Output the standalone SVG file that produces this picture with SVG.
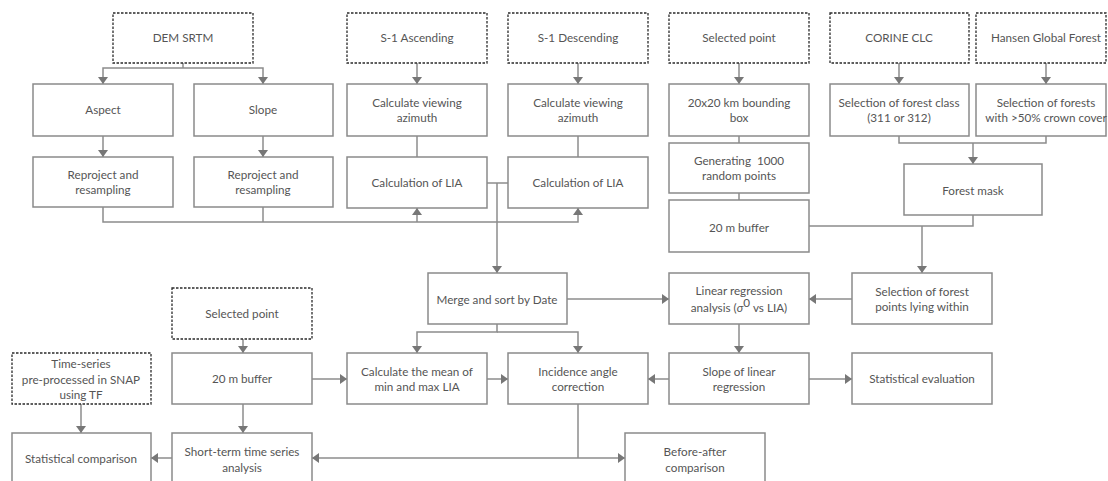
<svg xmlns="http://www.w3.org/2000/svg" width="1108" height="481" viewBox="0 0 1108 481">
<style>
  .box{fill:#fff;stroke:#8a8a8a;stroke-width:1.5}
  .src{fill:#fff;stroke:#2a2a2a;stroke-width:1.3;stroke-dasharray:2.5 1.5}
  .t{font-family:Lato,"Open Sans","Liberation Sans",sans-serif;font-size:11.7px;fill:#555;text-anchor:middle}
  .c{fill:none;stroke:#8c8c8c;stroke-width:1.5}
  .a{marker-end:url(#ah)}
</style>
<defs>
  <marker id="ah" viewBox="0 0 7 10" refX="7" refY="5" markerWidth="7" markerHeight="10" markerUnits="userSpaceOnUse" orient="auto">
    <path d="M0,0 L7,5 L0,10 z" fill="#777"/>
  </marker>
</defs>
<rect width="1108" height="481" fill="#fff"/>

<g id="connectors">
  <path class="c" d="M183,63 V68"/>
  <path class="c a" d="M183,68 H103 V84"/>
  <path class="c a" d="M183,68 H263 V84"/>
  <path class="c a" d="M103,136 V157"/>
  <path class="c a" d="M263,136 V157"/>
  <path class="c a" d="M417,63 V84"/>
  <path class="c a" d="M578,63 V84"/>
  <path class="c" d="M417,136 V157"/>
  <path class="c" d="M578,136 V157"/>
  <path class="c a" d="M103,207 V222 H578 V208"/>
  <path class="c a" d="M417,222 V208"/>
  <path class="c" d="M263,207 V222"/>
  <path class="c" d="M487,183 H508"/>
  <path class="c a" d="M497,183 V273"/>
  <path class="c a" d="M739,63 V84"/>
  <path class="c" d="M739,136 V143"/>
  <path class="c" d="M739,193 V200"/>
  <path class="c a" d="M899,63 V84"/>
  <path class="c a" d="M1046,63 V84"/>
  <path class="c" d="M899,136 V143 H1046 V136"/>
  <path class="c a" d="M973,143 V164"/>
  <path class="c" d="M809,226 H973 V215"/>
  <path class="c a" d="M922,226 V273"/>
  <path class="c a" d="M852,299 H809"/>
  <path class="c a" d="M567,299 H669"/>
  <path class="c a" d="M497,324 V332 H417 V353"/>
  <path class="c a" d="M497,332 H578 V353"/>
  <path class="c a" d="M739,324 V353"/>
  <path class="c a" d="M809,379 H852"/>
  <path class="c a" d="M669,379 H648"/>
  <path class="c a" d="M487,379 H508"/>
  <path class="c a" d="M312,379 H347"/>
  <path class="c a" d="M243,339 V353"/>
  <path class="c a" d="M243,404 V433"/>
  <path class="c a" d="M81,404 V433"/>
  <path class="c a" d="M172,458 H151"/>
  <path class="c" d="M578,404 V458"/>
  <path class="c a" d="M578,458 H625"/>
  <path class="c a" d="M578,458 H312"/>
</g>

<g id="dem-srtm"><rect class="src" x="113" y="13" width="140" height="50"/><text class="t" x="183" y="42">DEM SRTM</text></g>
<g id="s1-asc"><rect class="src" x="347" y="13" width="140" height="50"/><text class="t" x="417" y="42">S-1 Ascending</text></g>
<g id="s1-desc"><rect class="src" x="508" y="13" width="140" height="50"/><text class="t" x="578" y="42">S-1 Descending</text></g>
<g id="sel-point-1"><rect class="src" x="669" y="13" width="140" height="50"/><text class="t" x="739" y="42">Selected point</text></g>
<g id="corine"><rect class="src" x="830" y="13" width="139" height="50"/><text class="t" x="899" y="42">CORINE CLC</text></g>
<g id="hansen"><rect class="src" x="976" y="13" width="130" height="50"/><text class="t" x="1046" y="42">Hansen Global Forest</text></g>

<g id="aspect"><rect class="box" x="33" y="84" width="140" height="52"/><text class="t" x="103" y="114">Aspect</text></g>
<g id="slope"><rect class="box" x="194" y="84" width="139" height="52"/><text class="t" x="263" y="114">Slope</text></g>
<g id="azimuth-asc"><rect class="box" x="347" y="84" width="140" height="52"/><text class="t" x="417" y="107">Calculate viewing</text><text class="t" x="417" y="122">azimuth</text></g>
<g id="azimuth-desc"><rect class="box" x="508" y="84" width="140" height="52"/><text class="t" x="578" y="107">Calculate viewing</text><text class="t" x="578" y="122">azimuth</text></g>
<g id="bbox"><rect class="box" x="669" y="84" width="140" height="52"/><text class="t" x="739" y="107">20x20 km bounding</text><text class="t" x="739" y="122">box</text></g>
<g id="forest-class"><rect class="box" x="830" y="84" width="139" height="52"/><text class="t" x="899" y="107">Selection of forest class</text><text class="t" x="899" y="122">(311 or 312)</text></g>
<g id="forest-crown"><rect class="box" x="976" y="84" width="130" height="52"/><text class="t" x="1046" y="107">Selection of forests</text><text class="t" x="1046" y="122">with &gt;50% crown cover</text></g>

<g id="reproject-1"><rect class="box" x="33" y="157" width="140" height="50"/><text class="t" x="103" y="179">Reproject and</text><text class="t" x="103" y="194">resampling</text></g>
<g id="reproject-2"><rect class="box" x="194" y="157" width="139" height="50"/><text class="t" x="263" y="179">Reproject and</text><text class="t" x="263" y="194">resampling</text></g>
<g id="lia-asc"><rect class="box" x="347" y="157" width="140" height="51"/><text class="t" x="417" y="187">Calculation of LIA</text></g>
<g id="lia-desc"><rect class="box" x="508" y="157" width="140" height="51"/><text class="t" x="578" y="187">Calculation of LIA</text></g>
<g id="random-points"><rect class="box" x="669" y="143" width="140" height="50"/><text class="t" x="739" y="165">Generating&#160; 1000</text><text class="t" x="739" y="180">random points</text></g>
<g id="forest-mask"><rect class="box" x="904" y="164" width="138" height="51"/><text class="t" x="973" y="195">Forest mask</text></g>
<g id="buffer-1"><rect class="box" x="669" y="200" width="140" height="52"/><text class="t" x="739" y="232">20 m buffer</text></g>

<g id="merge"><rect class="box" x="428" y="273" width="139" height="51"/><text class="t" x="497" y="304">Merge and sort by Date</text></g>
<g id="linreg"><rect class="box" x="669" y="273" width="140" height="51"/><text class="t" x="739" y="295">Linear regression</text><text class="t" x="739" y="312">analysis (<tspan font-style="italic">σ</tspan><tspan dy="-5">0</tspan><tspan dy="5"> vs LIA)</tspan></text></g>
<g id="forest-points"><rect class="box" x="852" y="273" width="140" height="51"/><text class="t" x="922" y="296">Selection of forest</text><text class="t" x="922" y="311">points lying within</text></g>

<g id="sel-point-2"><rect class="src" x="172" y="288" width="140" height="51"/><text class="t" x="242" y="318">Selected point</text></g>
<g id="time-series"><rect class="src" x="12" y="353" width="139" height="51"/><text class="t" x="81" y="368">Time-series</text><text class="t" x="81" y="384">pre-processed in SNAP</text><text class="t" x="81" y="399">using TF</text></g>
<g id="buffer-2"><rect class="box" x="172" y="353" width="140" height="51"/><text class="t" x="242" y="383">20 m buffer</text></g>
<g id="mean-lia"><rect class="box" x="347" y="353" width="140" height="51"/><text class="t" x="417" y="376">Calculate the mean of</text><text class="t" x="417" y="391">min and max LIA</text></g>
<g id="incidence"><rect class="box" x="508" y="353" width="140" height="51"/><text class="t" x="578" y="376">Incidence angle</text><text class="t" x="578" y="391">correction</text></g>
<g id="slope-linreg"><rect class="box" x="669" y="353" width="140" height="51"/><text class="t" x="739" y="376">Slope of linear</text><text class="t" x="739" y="391">regression</text></g>
<g id="stat-eval"><rect class="box" x="852" y="353" width="140" height="51"/><text class="t" x="922" y="383">Statistical evaluation</text></g>

<g id="stat-comparison"><rect class="box" x="12" y="433" width="139" height="60"/><text class="t" x="81" y="463">Statistical comparison</text></g>
<g id="short-term"><rect class="box" x="172" y="433" width="140" height="60"/><text class="t" x="242" y="456">Short-term time series</text><text class="t" x="242" y="472">analysis</text></g>
<g id="before-after"><rect class="box" x="625" y="433" width="140" height="60"/><text class="t" x="695" y="456">Before-after</text><text class="t" x="695" y="472">comparison</text></g>
</svg>
